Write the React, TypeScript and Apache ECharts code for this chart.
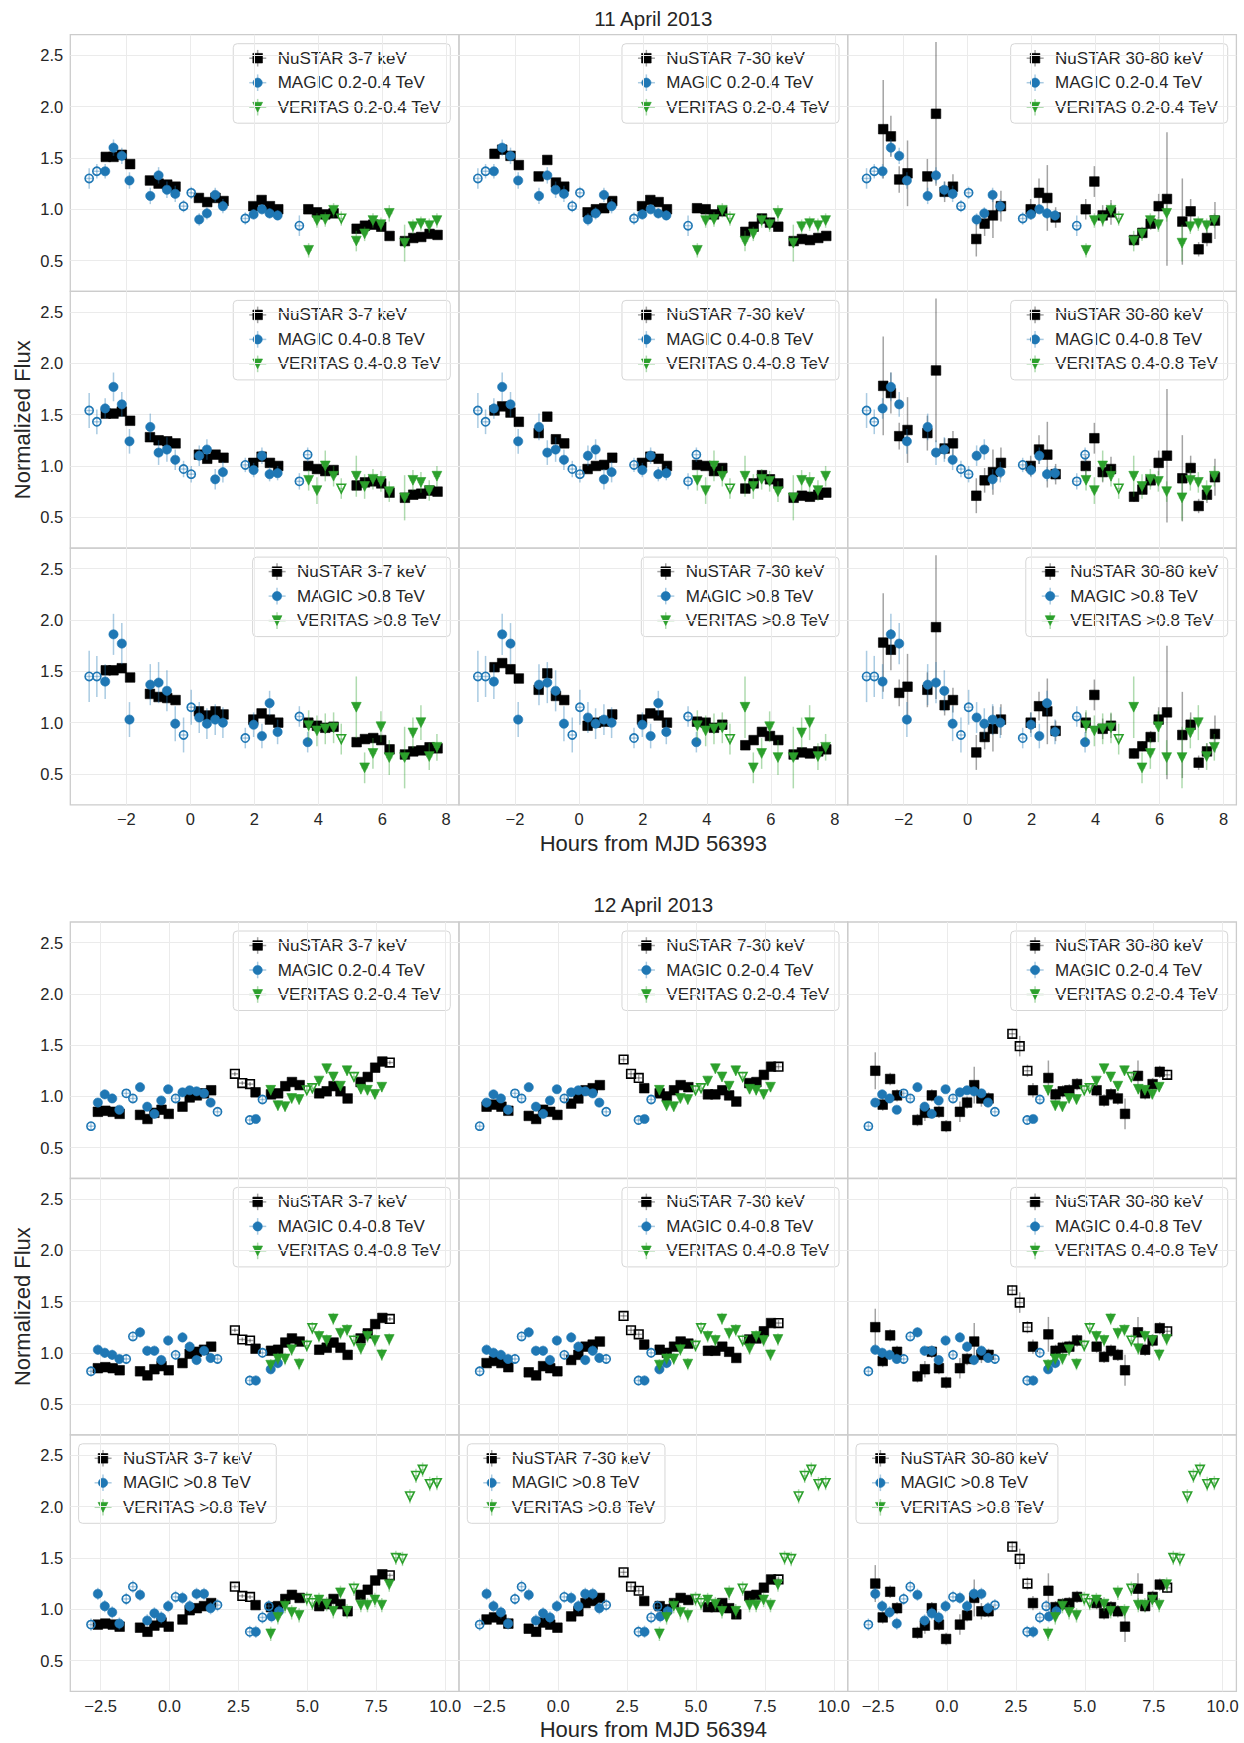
import React, { useEffect, useRef } from 'react';
import * as echarts from 'echarts';

const FONT = '"Liberation Sans", Arial, Helvetica, sans-serif';
const INK = '#262626';

// ---------------- Day 1 : 11 April 2013 (hours from MJD 56393) ----------------
const nuT1 = [-2.64, -2.40, -2.14, -1.88, -1.26, -0.99, -0.72, -0.46, 0.27, 0.53, 0.79, 1.04, 1.97, 2.23, 2.49, 2.75, 3.69, 3.96, 4.22, 4.48, 5.20, 5.46, 5.72, 5.97, 6.23, 6.71, 6.97, 7.22, 7.48, 7.73];
const nu37v1 = [1.51, 1.51, 1.53, 1.44, 1.28, 1.25, 1.24, 1.22, 1.11, 1.07, 1.11, 1.08, 1.03, 1.09, 1.03, 1.00, 1.00, 0.97, 0.95, 0.96, 0.81, 0.84, 0.85, 0.83, 0.74, 0.69, 0.72, 0.73, 0.76, 0.75];
const nu37e1 = 0.02;
const nu730v1 = [1.54, 1.58, 1.52, 1.43, 1.32, 1.48, 1.26, 1.22, 0.97, 1.00, 1.01, 1.08, 1.03, 1.09, 1.07, 1.00, 1.01, 1.00, 0.95, 0.98, 0.78, 0.83, 0.91, 0.87, 0.83, 0.69, 0.71, 0.70, 0.72, 0.74];
const nu730e1 = 0.035;
const nu3080v1 = [1.78, 1.71, 1.29, 1.35, 1.32, 1.93, 1.17, 1.22, 0.71, 0.86, 0.94, 1.03, 1.00, 1.16, 1.11, 0.92, 1.00, 1.27, 0.94, 0.97, 0.70, 0.77, 0.86, 1.03, 1.10, 0.88, 0.98, 0.61, 0.72, 0.89];
const nu3080e1 = [0.48, 0.20, 0.13, 0.32, 0.17, 0.70, 0.10, 0.12, 0.17, 0.12, 0.22, 0.15, 0.10, 0.14, 0.32, 0.10, 0.10, 0.15, 0.10, 0.12, 0.05, 0.05, 0.06, 0.12, 0.65, 0.42, 0.12, 0.07, 0.08, 0.18];
const nuOpen1: number[] = [];

const magT1 = [-3.16, -2.92, -2.66, -2.40, -2.14, -1.90, -1.25, -0.99, -0.73, -0.47, -0.21, 0.03, 0.28, 0.52, 0.78, 1.02, 1.72, 1.98, 2.24, 2.48, 2.73, 3.41, 3.67];
const mag24v1 = [1.30, 1.37, 1.37, 1.60, 1.52, 1.28, 1.13, 1.33, 1.19, 1.15, 1.03, 1.16, 0.90, 0.96, 1.14, 1.03, 0.91, 0.95, 1.00, 0.96, 0.94, 0.84];
const mag24e1 = [0.10, 0.07, 0.07, 0.08, 0.08, 0.08, 0.08, 0.08, 0.08, 0.08, 0.06, 0.06, 0.06, 0.06, 0.07, 0.07, 0.06, 0.05, 0.05, 0.05, 0.05, 0.10];
const mag24open1 = [0, 1, 10, 11, 16, 21];
const mag48v1 = [1.54, 1.43, 1.56, 1.77, 1.60, 1.24, 1.38, 1.13, 1.16, 1.06, 0.97, 0.92, 1.10, 1.16, 0.87, 0.94, 1.01, 0.96, 1.10, 0.92, 0.93, 0.85, 1.11];
const mag48e1 = [0.17, 0.12, 0.10, 0.14, 0.12, 0.12, 0.13, 0.12, 0.12, 0.10, 0.08, 0.08, 0.10, 0.10, 0.10, 0.10, 0.07, 0.07, 0.08, 0.07, 0.07, 0.08, 0.07];
const mag48open1 = [0, 1, 10, 11, 16, 21, 22];
const mag08v1 = [1.45, 1.45, 1.40, 1.86, 1.77, 1.03, 1.37, 1.39, 1.31, 0.99, 0.88, 1.15, 1.05, 0.99, 1.03, 1.00, 0.85, 0.98, 0.87, 1.19, 0.91, 1.06, 0.81];
const mag08e1 = [0.25, 0.20, 0.17, 0.20, 0.20, 0.17, 0.20, 0.20, 0.20, 0.17, 0.17, 0.17, 0.15, 0.15, 0.15, 0.15, 0.10, 0.12, 0.12, 0.12, 0.12, 0.10, 0.10];
const mag08open1 = [0, 1, 10, 11, 16, 21];

const verT1 = [3.70, 3.96, 4.22, 4.48, 4.72, 5.19, 5.45, 5.71, 5.96, 6.22, 6.70, 6.96, 7.21, 7.47, 7.71];
const ver24v1 = [0.60, 0.89, 0.90, 0.99, 0.91, 0.69, 0.76, 0.89, 0.85, 0.96, 0.67, 0.83, 0.86, 0.84, 0.89];
const ver24e1 = [0.07, 0.07, 0.07, 0.07, 0.07, 0.10, 0.07, 0.07, 0.07, 0.08, 0.18, 0.07, 0.07, 0.07, 0.07];
const ver48v1 = [0.86, 0.76, 1.00, 0.90, 0.78, 0.90, 0.80, 0.87, 0.85, 0.75, 0.69, 0.86, 0.84, 0.76, 0.90];
const ver48e1 = [0.10, 0.13, 0.15, 0.10, 0.10, 0.20, 0.12, 0.10, 0.10, 0.10, 0.22, 0.10, 0.10, 0.10, 0.10];
const ver08v1 = [0.97, 0.92, 0.94, 0.95, 0.84, 1.15, 0.56, 0.70, 0.96, 0.66, 0.66, 0.90, 1.00, 0.67, 0.76];
const ver08e1 = [0.15, 0.15, 0.15, 0.15, 0.15, 0.30, 0.15, 0.15, 0.15, 0.17, 0.30, 0.15, 0.17, 0.13, 0.13];
const verOpen1 = [4];

// ---------------- Day 2 : 12 April 2013 (hours from MJD 56394) ----------------
const nuT2 = [-2.60, -2.33, -2.06, -1.81, -1.07, -0.80, -0.55, -0.29, -0.03, 0.47, 0.73, 0.99, 1.25, 1.51, 2.37, 2.64, 2.92, 3.12, 3.68, 3.94, 4.20, 4.44, 4.72, 5.43, 5.70, 5.95, 6.20, 6.46, 6.93, 7.19, 7.46, 7.72, 7.99];
const nu37v2 = [0.85, 0.86, 0.85, 0.83, 0.82, 0.78, 0.84, 0.87, 0.83, 0.90, 0.99, 1.01, 1.03, 1.06, 1.22, 1.13, 1.12, 1.04, 1.02, 1.03, 1.10, 1.14, 1.11, 1.03, 1.05, 1.10, 1.05, 0.98, 1.14, 1.19, 1.28, 1.34, 1.33];
const nu37e2 = 0.02;
const nu730v2 = [0.90, 0.92, 0.90, 0.86, 0.81, 0.78, 0.87, 0.85, 0.82, 0.93, 0.98, 1.06, 1.08, 1.11, 1.36, 1.22, 1.18, 1.08, 1.03, 1.00, 1.06, 1.11, 1.09, 1.02, 1.02, 1.06, 1.01, 0.95, 1.13, 1.14, 1.21, 1.29, 1.29];
const nu730e2 = 0.03;
const nu3080v2 = [1.25, 0.92, 1.17, 1.01, 0.77, 0.84, 1.01, 0.85, 0.71, 0.85, 0.94, 1.11, 0.98, 0.98, 1.61, 1.49, 1.25, 1.06, 1.18, 1.02, 1.05, 1.06, 1.12, 1.06, 0.96, 1.02, 0.98, 0.83, 1.20, 1.03, 1.12, 1.24, 1.21];
const nu3080e2 = [0.18, 0.06, 0.06, 0.06, 0.06, 0.08, 0.06, 0.06, 0.06, 0.10, 0.06, 0.18, 0.08, 0.06, 0.05, 0.10, 0.06, 0.07, 0.17, 0.06, 0.06, 0.06, 0.06, 0.06, 0.06, 0.06, 0.06, 0.15, 0.15, 0.06, 0.06, 0.06, 0.05];
const nuOpen2 = [14, 15, 16, 32];

const magT2 = [-2.85, -2.60, -2.35, -2.08, -1.82, -1.57, -1.33, -1.07, -0.81, -0.55, -0.30, -0.05, 0.22, 0.47, 0.73, 0.98, 1.25, 1.49, 1.74, 2.91, 3.13, 3.37];
const mag24v2 = [0.71, 0.94, 1.02, 0.98, 0.87, 1.03, 0.98, 1.09, 0.90, 0.83, 0.96, 1.07, 0.98, 1.04, 1.06, 1.05, 1.03, 0.94, 0.85, 0.77, 0.78, 0.97];
const mag24e2 = 0.04;
const mag48T2 = [...magT2, 3.67, 3.93];
const mag48v2 = [0.82, 1.03, 1.00, 0.98, 0.94, 0.94, 1.16, 1.20, 1.02, 1.02, 0.93, 1.12, 0.98, 1.15, 1.06, 0.93, 1.02, 0.95, 0.94, 0.73, 0.73, 1.00, 0.84, 0.90];
const mag48e2 = 0.05;
const mag08T2 = [...magT2, 3.60, 3.70, 3.97];
const mag08v2 = [0.85, 1.15, 1.03, 0.97, 0.86, 1.10, 1.22, 1.14, 0.89, 0.96, 0.92, 1.03, 1.12, 1.11, 1.03, 1.15, 1.15, 1.01, 1.04, 0.78, 0.78, 0.92, 1.03, 0.93, 0.98];
const mag08e2 = 0.06;
const magOpen2 = [0, 5, 6, 12, 18, 19, 21];
const mag08open2 = [0, 5, 6, 12, 18, 19, 21, 22];

const verT2 = [3.67, 3.93, 4.19, 4.43, 4.70, 4.98, 5.18, 5.42, 5.70, 5.94, 6.20, 6.44, 6.69, 6.94, 7.18, 7.45, 7.70, 7.97, 8.21, 8.45, 8.72, 8.94, 9.18, 9.44, 9.70];
const ver24v2 = [1.06, 0.91, 0.90, 0.98, 0.97, 1.06, 1.08, 1.15, 1.27, 1.19, 1.10, 1.25, 1.19, 1.07, 1.06, 1.02, 1.09];
const ver24e2 = 0.05;
const ver48v2 = [0.88, 0.94, 0.94, 1.03, 0.89, 1.07, 1.24, 1.16, 1.12, 1.33, 1.19, 1.22, 1.12, 1.04, 1.16, 1.12, 0.98, 1.13];
const ver48e2 = 0.06;
const ver08v2 = [0.76, 0.92, 1.03, 0.97, 0.94, 1.10, 1.06, 1.09, 1.05, 0.98, 1.16, 0.98, 1.20, 1.04, 1.04, 1.09, 1.04, 1.24, 1.50, 1.49, 2.10, 2.30, 2.36, 2.22, 2.23];
const ver08e2 = 0.07;
const verOpen2 = [5, 6, 12];
const ver08open2 = [5, 6, 12, 18, 19, 20, 21, 22, 23, 24];

// ---------------- labels ----------------
const NU_LABELS = ['NuSTAR 3-7 keV', 'NuSTAR 7-30 keV', 'NuSTAR 30-80 keV'];
const MAG_LABELS = ['MAGIC 0.2-0.4 TeV', 'MAGIC 0.4-0.8 TeV', 'MAGIC >0.8 TeV'];
const VER_LABELS = ['VERITAS 0.2-0.4 TeV', 'VERITAS 0.4-0.8 TeV', 'VERITAS >0.8 TeV'];
const TITLES = ['11 April 2013', '12 April 2013'];
const XLABELS = ['Hours from MJD 56393', 'Hours from MJD 56394'];
const YLABEL = 'Normalized Flux';

type Kind = 'nu' | 'magic' | 'veritas';
type DS = { t: number[]; v: number[]; e: number | number[]; open: number[] };

const STYLE: Record<Kind, { color: string; err: string; xerr: number }> = {
  nu: { color: '#000000', err: 'rgba(0,0,0,0.36)', xerr: 0.12 },
  magic: { color: '#1f77b4', err: 'rgba(31,119,180,0.38)', xerr: 0.12 },
  veritas: { color: '#2ca02c', err: 'rgba(44,160,44,0.38)', xerr: 0.1 },
};

const DAYS = [
  {
    xmin: -3.75, xmax: 8.4, xstep: 2, xdec: 0,
    tops: [34.7, 291.4, 548.1], h: 256.7,
    titleY: 18, xlabelY: 843,
    legendSide: ['right', 'right', 'right'],
    nu: [
      { t: nuT1, v: nu37v1, e: nu37e1, open: nuOpen1 },
      { t: nuT1, v: nu730v1, e: nu730e1, open: nuOpen1 },
      { t: nuT1, v: nu3080v1, e: nu3080e1, open: nuOpen1 },
    ] as DS[],
    mag: [
      { t: magT1, v: mag24v1, e: mag24e1, open: mag24open1 },
      { t: magT1, v: mag48v1, e: mag48e1, open: mag48open1 },
      { t: magT1, v: mag08v1, e: mag08e1, open: mag08open1 },
    ] as DS[],
    ver: [
      { t: verT1, v: ver24v1, e: ver24e1, open: verOpen1 },
      { t: verT1, v: ver48v1, e: ver48e1, open: verOpen1 },
      { t: verT1, v: ver08v1, e: ver08e1, open: verOpen1 },
    ] as DS[],
  },
  {
    xmin: -3.6, xmax: 10.5, xstep: 2.5, xdec: 1,
    tops: [922, 1178.4, 1434.8], h: 256.5,
    titleY: 904, xlabelY: 1729,
    legendSide: ['right', 'right', 'left'],
    nu: [
      { t: nuT2, v: nu37v2, e: nu37e2, open: nuOpen2 },
      { t: nuT2, v: nu730v2, e: nu730e2, open: nuOpen2 },
      { t: nuT2, v: nu3080v2, e: nu3080e2, open: nuOpen2 },
    ] as DS[],
    mag: [
      { t: magT2, v: mag24v2, e: mag24e2, open: magOpen2 },
      { t: mag48T2, v: mag48v2, e: mag48e2, open: magOpen2 },
      { t: mag08T2, v: mag08v2, e: mag08e2, open: mag08open2 },
    ] as DS[],
    ver: [
      { t: verT2, v: ver24v2, e: ver24e2, open: verOpen2 },
      { t: verT2, v: ver48v2, e: ver48e2, open: verOpen2 },
      { t: verT2, v: ver08v2, e: ver08e2, open: ver08open2 },
    ] as DS[],
  },
];

const COL_LEFT = [70.3, 459, 847.7];
const COL_W = 388.7;
const YMIN = 0.2, YMAX = 2.7, YSTEP = 0.5;

function marker(kind: Kind, cx: number, cy: number, open: boolean): any {
  const color = STYLE[kind].color;
  const style = { fill: open ? 'none' : color, stroke: color, lineWidth: open ? 1.6 : 0.6 };
  if (kind === 'nu') {
    const s = open ? 4.3 : 4.8;
    return { type: 'rect', shape: { x: cx - s, y: cy - s, width: 2 * s, height: 2 * s }, style };
  }
  if (kind === 'magic') {
    return { type: 'circle', shape: { cx, cy, r: open ? 4.1 : 4.6 }, style };
  }
  const s = open ? 4.3 : 4.9;
  return { type: 'polygon', shape: { points: [[cx - s, cy - s], [cx + s, cy - s], [cx, cy + s]] }, style };
}

let measureCtx: CanvasRenderingContext2D | null = null;
function textWidth(s: string, size: number): number {
  if (!measureCtx) measureCtx = document.createElement('canvas').getContext('2d');
  if (!measureCtx) return s.length * size * 0.55;
  measureCtx.font = `${size}px ${FONT}`;
  return measureCtx.measureText(s).width;
}

function fmtTick(v: number, step: number, dec: number): string {
  const k = v / step;
  if (Math.abs(k - Math.round(k)) > 1e-6) return '';
  return v.toFixed(dec).replace('-', '\u2212');
}

function addSeries(series: any[], gi: number, kind: Kind, ds: DS) {
  const st = STYLE[kind];
  const openSet = new Set(ds.open);
  const data = ds.v.map((val, i) => [
    ds.t[i], val, Array.isArray(ds.e) ? ds.e[i] : ds.e, openSet.has(i) ? 1 : 0,
  ]);
  series.push({
    type: 'custom', xAxisIndex: gi, yAxisIndex: gi, silent: true,
    encode: { x: 0, y: 1 }, data,
    renderItem: (_p: any, api: any) => {
      const x = api.value(0), y = api.value(1), e = api.value(2);
      const c = api.coord([x, y]);
      const t = api.coord([x, y + e]);
      const b = api.coord([x, y - e]);
      const l = api.coord([x - st.xerr, y]);
      const r = api.coord([x + st.xerr, y]);
      return {
        type: 'group',
        children: [
          { type: 'line', shape: { x1: c[0], y1: t[1], x2: c[0], y2: b[1] }, style: { stroke: st.err, lineWidth: 1.5 } },
          { type: 'line', shape: { x1: l[0], y1: c[1], x2: r[0], y2: c[1] }, style: { stroke: st.err, lineWidth: 1.5 } },
        ],
      };
    },
  });
  series.push({
    type: 'custom', xAxisIndex: gi, yAxisIndex: gi, silent: true,
    encode: { x: 0, y: 1 }, data,
    renderItem: (_p: any, api: any) => {
      const c = api.coord([api.value(0), api.value(1)]);
      return marker(kind, c[0], c[1], api.value(3) === 1);
    },
  });
}

function legendGroup(gl: number, gt: number, gw: number, side: string, labels: string[]): any {
  const kinds: Kind[] = ['nu', 'magic', 'veritas'];
  const tw = Math.max(...labels.map((s) => textWidth(s, 17)));
  const w = 44.4 + tw + 9.5;
  const h = 79.5;
  const x = side === 'right' ? gl + gw - 8.7 - w : gl + 8.3;
  const y = gt + 9;
  const children: any[] = [
    { type: 'rect', shape: { x: 0, y: 0, width: w, height: h, r: 4 }, style: { fill: 'rgba(255,255,255,0.93)', stroke: '#d6d6d6', lineWidth: 1 } },
  ];
  kinds.forEach((k, i) => {
    const cy = 14.5 + i * 24.5;
    const st = STYLE[k];
    children.push({ type: 'line', shape: { x1: 16, y1: cy, x2: 33, y2: cy }, style: { stroke: st.err, lineWidth: 1.5 } });
    children.push({ type: 'line', shape: { x1: 24.4, y1: cy - 8.3, x2: 24.4, y2: cy + 8.3 }, style: { stroke: st.err, lineWidth: 1.5 } });
    children.push(marker(k, 24.4, cy, false));
    children.push({
      type: 'text', x: 44.4, y: cy,
      style: { text: labels[i], fontSize: 17, fontFamily: FONT, fill: INK, align: 'left', verticalAlign: 'middle' },
    });
  });
  return { type: 'group', x, y, z: 100, children };
}

function buildOption(): any {
  const grid: any[] = [], xAxis: any[] = [], yAxis: any[] = [], series: any[] = [], graphic: any[] = [];
  const centerX = (COL_LEFT[0] + COL_LEFT[2] + COL_W) / 2;
  let gi = 0;
  DAYS.forEach((day, d) => {
    const figTop = day.tops[0];
    const figBottom = day.tops[2] + day.h;
    graphic.push({
      type: 'text', x: centerX, y: day.titleY, z: 100,
      style: { text: TITLES[d], fontSize: 20.5, fontFamily: FONT, fill: INK, align: 'center', verticalAlign: 'middle' },
    });
    graphic.push({
      type: 'text', x: centerX, y: day.xlabelY, z: 100,
      style: { text: XLABELS[d], fontSize: 22, fontFamily: FONT, fill: INK, align: 'center', verticalAlign: 'middle' },
    });
    graphic.push({
      type: 'text', x: 22, y: (figTop + figBottom) / 2, rotation: Math.PI / 2, z: 100,
      style: { text: YLABEL, fontSize: 22, fontFamily: FONT, fill: INK, align: 'center', verticalAlign: 'middle' },
    });
    for (let r = 0; r < 3; r++) {
      for (let c = 0; c < 3; c++) {
        const left = COL_LEFT[c], top = day.tops[r];
        grid.push({
          left, top, width: COL_W, height: day.h, show: true,
          borderColor: '#cccccc', borderWidth: 1.3, backgroundColor: 'transparent', containLabel: false,
        });
        xAxis.push({
          type: 'value', gridIndex: gi, min: day.xmin, max: day.xmax,
          minInterval: day.xstep, maxInterval: day.xstep, splitNumber: 6,
          axisLine: { show: false }, axisTick: { show: false },
          axisLabel: {
            show: r === 2, margin: 6, fontSize: 16.5, fontFamily: FONT, color: INK,
            showMinLabel: false, showMaxLabel: false,
            formatter: (v: number) => fmtTick(v, day.xstep, day.xdec),
          },
          splitLine: { show: true, showMinLine: false, showMaxLine: false, lineStyle: { color: '#ebebeb', width: 1 } },
        });
        yAxis.push({
          type: 'value', gridIndex: gi, min: YMIN, max: YMAX,
          minInterval: YSTEP, maxInterval: YSTEP, splitNumber: 5,
          axisLine: { show: false }, axisTick: { show: false },
          axisLabel: {
            show: c === 0, margin: 7, fontSize: 16.5, fontFamily: FONT, color: INK,
            showMinLabel: false, showMaxLabel: false,
            formatter: (v: number) => fmtTick(v, YSTEP, 1),
          },
          splitLine: { show: true, showMinLine: false, showMaxLine: false, lineStyle: { color: '#ebebeb', width: 1 } },
        });
        addSeries(series, gi, 'nu', day.nu[c]);
        addSeries(series, gi, 'magic', day.mag[r]);
        addSeries(series, gi, 'veritas', day.ver[r]);
        graphic.push(legendGroup(left, top, COL_W, day.legendSide[r], [NU_LABELS[c], MAG_LABELS[r], VER_LABELS[r]]));
        gi++;
      }
    }
  });
  return { animation: false, backgroundColor: '#ffffff', grid, xAxis, yAxis, series, graphic };
}

export default function App() {
  const ref = useRef<HTMLDivElement>(null);
  useEffect(() => {
    if (!ref.current) return;
    const chart = echarts.init(ref.current, null, { renderer: 'svg', width: 1244, height: 1743 });
    chart.setOption(buildOption());
    return () => chart.dispose();
  }, []);
  return (
    <div
      ref={ref}
      style={{ position: 'absolute', left: 0, top: 0, width: 1244, height: 1743, background: '#ffffff' }}
    />
  );
}
